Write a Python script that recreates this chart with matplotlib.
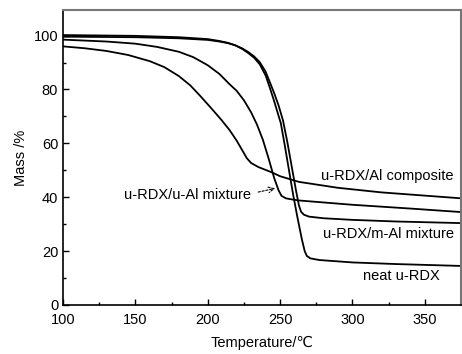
import matplotlib
matplotlib.use("Agg")
import matplotlib.pyplot as plt

plt.rcParams['font.family'] = ['Liberation Sans', 'DejaVu Sans']

# Data (Temperature in deg C, Mass in %)
t_neat = [100, 150, 180, 200, 208, 214, 219, 224, 228, 232, 236, 240, 243, 246, 248.5, 250.5, 253, 256, 259, 262, 265, 267, 268.5, 271, 277, 300, 330, 375]
m_neat = [100.2, 99.9, 99.4, 98.7, 98.0, 97.3, 96.4, 95.0, 93.5, 91.8, 89.3, 85.2, 80.5, 75.5, 71, 67.5, 60, 50.5, 41, 32.5, 24.5, 20, 18.2, 17.3, 16.7, 15.8, 15.2, 14.5]

t_mal = [100, 150, 180, 200, 208, 214, 219, 224, 228, 232, 236, 240, 243, 246, 249, 252, 255, 258, 261, 263, 264.5, 266.5, 270, 280, 300, 330, 375]
m_mal = [99.6, 99.4, 99.0, 98.4, 97.8, 97.2, 96.4, 95.2, 93.9, 92.3, 90.1, 86.6, 82.6, 78.5, 74.0, 68.5, 60.5, 51.5, 42.5, 37.0, 34.6, 33.5, 32.8, 32.2, 31.6, 31.0, 30.4]

t_ual = [100, 130, 150, 165, 180, 190, 200, 208, 215, 220, 225, 230, 234, 238, 242, 246, 249, 251, 254, 258, 263, 300, 340, 375]
m_ual = [98.5, 97.8, 97.0, 95.8, 94.0, 92.0, 89.0, 85.8, 82.0, 79.5, 76.0, 71.5, 67.0, 61.5, 54.5, 47.0, 42.5, 40.5, 39.6, 39.2, 38.8, 37.2, 35.8, 34.5]

t_comp = [100, 115, 130, 145, 160, 170, 180, 188, 195, 202, 209, 215, 220, 224, 227, 230, 235, 244, 250, 263, 290, 320, 350, 375]
m_comp = [96.0, 95.3, 94.3, 92.8, 90.5, 88.3, 85.0, 81.5, 77.5, 73.3, 69.0, 65.0, 61.0, 57.3, 54.5, 52.7, 51.2, 49.3, 47.8, 45.7, 43.5, 41.8, 40.6, 39.6]

x_ticks = [100, 150, 200, 250, 300, 350]
y_ticks = [0, 20, 40, 60, 80, 100]

fig = plt.figure(figsize=(4.62, 3.54), dpi=100)
ax = fig.add_axes([63/462, 49/354, (461-63)/462, (305-10)/354])

for t, m in [(t_neat, m_neat), (t_mal, m_mal), (t_ual, m_ual), (t_comp, m_comp)]:
    ax.plot(t, m, color='black', lw=1.3, solid_joinstyle='round')

ax.set_xlim(100, 374)
ax.set_ylim(0, 109.5)
ax.set_xticks(x_ticks)
ax.set_yticks(y_ticks)
ax.set_xticks([125, 175, 225, 275, 325, 375], minor=True)
ax.set_yticks([10, 30, 50, 70, 90], minor=True)
ax.tick_params(direction='in', which='both', labelsize=10.5, top=False, right=False)
ax.tick_params(which='major', length=4, width=1)
ax.tick_params(which='minor', length=2.5, width=1)
ax.tick_params(axis='x', pad=6)
for s in ['left', 'bottom']:
    ax.spines[s].set_linewidth(1.2)
for s in ['top', 'right']:
    ax.spines[s].set_color('#777777')
    ax.spines[s].set_linewidth(1.5)

ax.set_xlabel('Temperature/℃', fontsize=10.5, labelpad=6)
ax.set_ylabel('Mass /%', fontsize=10.5, labelpad=4)

fs = 10.5
ax.text(324, 48, 'u-RDX/Al composite', fontsize=fs, ha='center', va='center')
ax.text(186, 40.7, 'u-RDX/u-Al mixture', fontsize=fs, ha='center', va='center')
ax.text(325, 26.4, 'u-RDX/m-Al mixture', fontsize=fs, ha='center', va='center')
ax.text(334, 10.6, 'neat u-RDX', fontsize=fs, ha='center', va='center')
ax.annotate('', xy=(248.5, 43.5), xytext=(233, 41.7),
            arrowprops=dict(arrowstyle='->', linestyle=(0, (2, 1.5)), lw=0.8, color='black'))

fig.savefig('out.png', dpi=100)
